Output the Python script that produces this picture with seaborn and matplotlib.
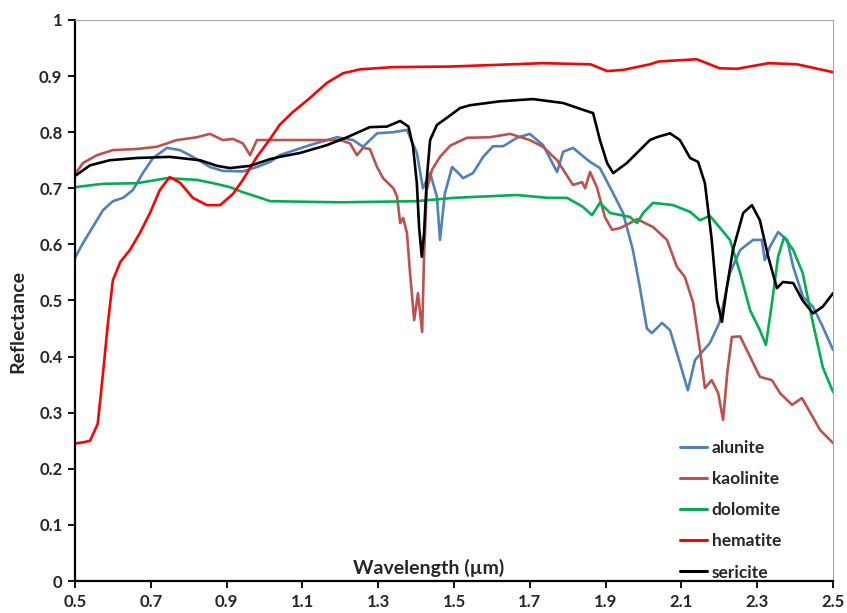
import matplotlib
matplotlib.use('Agg')
import matplotlib.pyplot as plt
import seaborn as sns
import pandas as pd

# spectra (wavelength in um, reflectance 0-1)
alunite_x = [0.5, 0.521, 0.547, 0.574, 0.6, 0.627, 0.653, 0.679, 0.706, 0.743, 0.777, 0.811, 0.856, 0.89,
             0.943, 0.98, 1.015, 1.04, 1.12, 1.191, 1.234, 1.26, 1.297, 1.34, 1.376, 1.402, 1.418, 1.437,
             1.455, 1.463, 1.476, 1.495, 1.516, 1.524, 1.55, 1.577, 1.603, 1.63, 1.666, 1.70, 1.735, 1.772,
             1.788, 1.814, 1.859, 1.885, 1.92, 1.946, 1.972, 1.99, 2.009, 2.022, 2.049, 2.07, 2.091, 2.117,
             2.136, 2.175, 2.20, 2.228, 2.255, 2.289, 2.312, 2.32, 2.333, 2.355, 2.379, 2.395, 2.421, 2.447,
             2.473, 2.5]
alunite_y = [0.576, 0.602, 0.631, 0.661, 0.677, 0.683, 0.697, 0.727, 0.754, 0.772, 0.768, 0.756, 0.738, 0.731,
             0.73, 0.738, 0.747, 0.759, 0.777, 0.791, 0.786, 0.774, 0.798, 0.80, 0.804, 0.763, 0.70, 0.727,
             0.685, 0.608, 0.691, 0.738, 0.724, 0.718, 0.727, 0.756, 0.775, 0.775, 0.79, 0.797, 0.777, 0.729,
             0.765, 0.772, 0.747, 0.736, 0.691, 0.656, 0.59, 0.525, 0.45, 0.442, 0.46, 0.447, 0.40, 0.34,
             0.394, 0.424, 0.46, 0.549, 0.59, 0.608, 0.608, 0.572, 0.595, 0.622, 0.608, 0.56, 0.506, 0.489,
             0.453, 0.412]

kaolinite_x = [0.5, 0.521, 0.558, 0.6, 0.663, 0.716, 0.769, 0.822, 0.856, 0.89, 0.917, 0.943, 0.962, 0.98,
               1.015, 1.1, 1.2, 1.226, 1.244, 1.26, 1.278, 1.297, 1.313, 1.34, 1.35, 1.358, 1.366, 1.376,
               1.384, 1.395, 1.405, 1.416, 1.421, 1.428, 1.442, 1.463, 1.49, 1.534, 1.595, 1.648, 1.70, 1.735,
               1.772, 1.814, 1.838, 1.846, 1.859, 1.877, 1.898, 1.917, 1.938, 1.964, 1.983, 2.025, 2.062,
               2.088, 2.109, 2.131, 2.149, 2.162, 2.18, 2.197, 2.21, 2.221, 2.233, 2.255, 2.281, 2.307, 2.339,
               2.36, 2.392, 2.418, 2.44, 2.466, 2.5]
kaolinite_y = [0.725, 0.745, 0.759, 0.768, 0.77, 0.774, 0.786, 0.791, 0.797, 0.786, 0.788, 0.78, 0.759, 0.786,
               0.786, 0.786, 0.786, 0.78, 0.759, 0.772, 0.77, 0.738, 0.718, 0.70, 0.685, 0.638, 0.647, 0.62,
               0.549, 0.465, 0.513, 0.444, 0.578, 0.697, 0.733, 0.756, 0.776, 0.79, 0.791, 0.797, 0.786, 0.774,
               0.75, 0.706, 0.711, 0.70, 0.729, 0.702, 0.649, 0.626, 0.629, 0.638, 0.645, 0.631, 0.608,
               0.56, 0.542, 0.496, 0.412, 0.344, 0.358, 0.335, 0.287, 0.371, 0.435, 0.436, 0.40, 0.364, 0.358,
               0.335, 0.314, 0.326, 0.30, 0.269, 0.246]

dolomite_x = [0.5, 0.574, 0.663, 0.743, 0.822, 0.865, 0.909, 0.943, 0.98, 1.015, 1.2, 1.4, 1.5, 1.666, 1.746,
              1.798, 1.84, 1.864, 1.885, 1.912, 1.964, 1.983, 1.999, 2.025, 2.078, 2.123, 2.149, 2.175, 2.20,
              2.228, 2.255, 2.281, 2.307, 2.323, 2.339, 2.355, 2.371, 2.395, 2.42, 2.447, 2.473, 2.5]
dolomite_y = [0.702, 0.708, 0.709, 0.718, 0.715, 0.709, 0.702, 0.693, 0.685, 0.677, 0.675, 0.677, 0.683, 0.688,
              0.683, 0.683, 0.667, 0.652, 0.674, 0.656, 0.649, 0.638, 0.656, 0.674, 0.67, 0.658, 0.643, 0.651,
              0.631, 0.608, 0.549, 0.483, 0.447, 0.421, 0.496, 0.578, 0.613, 0.59, 0.549, 0.46, 0.381, 0.337]

hematite_x = [0.5, 0.52, 0.54, 0.56, 0.574, 0.587, 0.60, 0.62, 0.645, 0.671, 0.698, 0.724, 0.75, 0.777, 0.811,
              0.848, 0.883, 0.917, 0.943, 0.98, 1.015, 1.04, 1.075, 1.12, 1.165, 1.207, 1.252, 1.34, 1.49,
              1.735, 1.86, 1.904, 1.946, 2.017, 2.04, 2.14, 2.167, 2.20, 2.247, 2.33, 2.405, 2.5]
hematite_y = [0.245, 0.247, 0.25, 0.28, 0.37, 0.46, 0.536, 0.569, 0.59, 0.62, 0.656, 0.697, 0.72, 0.71, 0.683,
              0.67, 0.67, 0.69, 0.715, 0.756, 0.788, 0.813, 0.836, 0.861, 0.888, 0.905, 0.912, 0.916, 0.917,
              0.923, 0.921, 0.909, 0.911, 0.921, 0.926, 0.93, 0.923, 0.914, 0.913, 0.923, 0.921, 0.907]

sericite_x = [0.5, 0.54, 0.592, 0.663, 0.75, 0.83, 0.875, 0.909, 0.962, 1.015, 1.04, 1.094, 1.165, 1.218,
              1.278, 1.323, 1.358, 1.38, 1.392, 1.402, 1.408, 1.415, 1.421, 1.428, 1.437, 1.455, 1.48, 1.516,
              1.542, 1.621, 1.708, 1.788, 1.84, 1.867, 1.885, 1.904, 1.92, 1.956, 2.017, 2.035, 2.07, 2.096,
              2.123, 2.144, 2.162, 2.18, 2.194, 2.207, 2.22, 2.236, 2.263, 2.286, 2.307, 2.329, 2.352, 2.368,
              2.395, 2.42, 2.447, 2.473, 2.5]
sericite_y = [0.722, 0.741, 0.75, 0.754, 0.756, 0.75, 0.74, 0.736, 0.74, 0.752, 0.756, 0.763, 0.777, 0.791,
              0.809, 0.81, 0.82, 0.81, 0.774, 0.709, 0.63, 0.578, 0.62, 0.715, 0.786, 0.813, 0.825, 0.843,
              0.848, 0.855, 0.859, 0.852, 0.84, 0.834, 0.786, 0.745, 0.727, 0.745, 0.786, 0.791, 0.798, 0.786,
              0.754, 0.747, 0.709, 0.608, 0.50, 0.462, 0.524, 0.59, 0.656, 0.67, 0.643, 0.578, 0.522, 0.533,
              0.531, 0.50, 0.477, 0.489, 0.513]

minerals = ['alunite', 'kaolinite', 'dolomite', 'hematite', 'sericite']
colors = ['#4F81BD', '#C0504D', '#00B050', '#FF0000', '#000000']

x_ticks = [0.5, 0.7, 0.9, 1.1, 1.3, 1.5, 1.7, 1.9, 2.1, 2.3, 2.5]
x_tick_labels = ['0.5', '0.7', '0.9', '1.1', '1.3', '1.5', '1.7', '1.9', '2.1', '2.3', '2.5']
y_ticks = [0, 0.1, 0.2, 0.3, 0.4, 0.5, 0.6, 0.7, 0.8, 0.9, 1.0]
y_tick_labels = ['0', '0.1', '0.2', '0.3', '0.4', '0.5', '0.6', '0.7', '0.8', '0.9', '1']

series = {
    'alunite': (alunite_x, alunite_y),
    'kaolinite': (kaolinite_x, kaolinite_y),
    'dolomite': (dolomite_x, dolomite_y),
    'hematite': (hematite_x, hematite_y),
    'sericite': (sericite_x, sericite_y),
}
df = pd.concat(
    [pd.DataFrame({'wavelength': xs, 'reflectance': ys, 'mineral': name})
     for name, (xs, ys) in series.items()],
    ignore_index=True)

sns.set_style('ticks')
plt.rcParams['font.family'] = ['Lato', 'DejaVu Sans']
plt.rcParams['font.weight'] = 'bold'

fig = plt.figure(figsize=(8.47, 6.13), dpi=100)
ax = fig.add_axes([0.0885, 0.0522, 0.895, 0.9152])

sns.lineplot(data=df, x='wavelength', y='reflectance', hue='mineral', hue_order=minerals,
             palette=colors, estimator=None, sort=False, linewidth=1.9, ax=ax)

ax.set_xlim(0.5, 2.5)
ax.set_ylim(0, 1)
ax.set_xticks(x_ticks)
ax.set_xticklabels(x_tick_labels, fontsize=12, fontweight='bold')
ax.set_yticks(y_ticks)
ax.set_yticklabels(y_tick_labels, fontsize=12, fontweight='bold')
ax.tick_params(axis='both', direction='out', length=5, width=1.3, color='black', pad=4)

for side in ['left', 'bottom']:
    ax.spines[side].set_color('black')
    ax.spines[side].set_linewidth(1.6)
for side in ['top', 'right']:
    ax.spines[side].set_visible(True)
    ax.spines[side].set_color('#A6A6A6')
    ax.spines[side].set_linewidth(0.8)

ax.set_xlabel('Wavelength (\u00b5m)', fontsize=14, fontweight='bold')
ax.xaxis.label.set_verticalalignment('center')
ax.xaxis.set_label_coords(0.466, 0.024)
ax.set_ylabel('Reflectance', fontsize=14, fontweight='bold')
ax.yaxis.label.set_verticalalignment('center')
ax.yaxis.set_label_coords(-0.075, 0.462)

leg = ax.legend(loc='lower left', bbox_to_anchor=(0.777, -0.027), frameon=False,
                fontsize=12.5, handlelength=1.6, handletextpad=0.25, labelspacing=0.87)
for txt in leg.get_texts():
    txt.set_fontweight('bold')
for line in leg.get_lines():
    line.set_linewidth(2.2)

fig.savefig('out.png', dpi=100)
